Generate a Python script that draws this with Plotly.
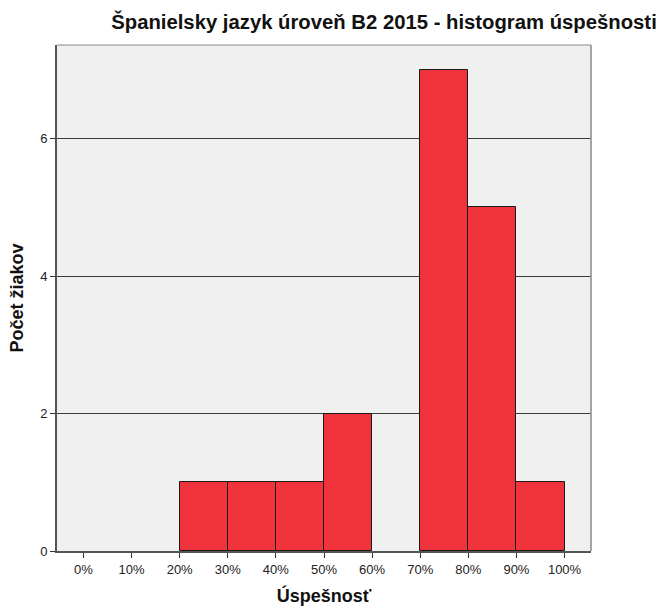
import plotly.graph_objects as go

bin_starts = [0, 10, 20, 30, 40, 50, 60, 70, 80, 90]
counts = [0, 0, 1, 1, 1, 2, 0, 7, 5, 1]
tick_vals = [0, 10, 20, 30, 40, 50, 60, 70, 80, 90, 100]
tick_text = ["0%", "10%", "20%", "30%", "40%", "50%", "60%", "70%", "80%", "90%", "100%"]
y_ticks = [0, 2, 4, 6]
bin_width = 10

xs = [s + bin_width / 2 for s, c in zip(bin_starts, counts) if c > 0]
ys = [c for c in counts if c > 0]

fig = go.Figure()
fig.add_trace(go.Bar(
    x=xs, y=ys, width=[bin_width] * len(xs),
    marker=dict(color="#F0323A", line=dict(color="#1a1a1a", width=1)),
    hoverinfo="x+y",
))

font = "Liberation Sans, Arial, sans-serif"
W, H = 661, 606
fig.update_layout(
    width=W, height=H,
    margin=dict(l=57, r=70, t=45, b=55, autoexpand=False),
    paper_bgcolor="white", plot_bgcolor="#F0F0F0",
    showlegend=False, bargap=0,
    font=dict(family=font, size=13, color="#222"),
    title=dict(text="<b>Španielsky jazyk úroveň B2 2015 - histogram úspešnosti</b>",
               x=384 / W, xanchor="center", y=1 - 22 / H, yanchor="middle",
               font=dict(family=font, size=20.3, color="#111")),
)
fig.update_xaxes(
    range=[-5.5, 105.5], tickvals=tick_vals, ticktext=tick_text,
    ticks="outside", ticklen=5, tickcolor="#333", tickwidth=1,
    showgrid=False, zeroline=False, automargin=False,
    showline=True, linecolor="#555", linewidth=2, mirror=False,
    title=dict(text="<b>Úspešnosť</b>", font=dict(family=font, size=18, color="#111"), standoff=15),
    tickfont=dict(family=font, size=13, color="#222"),
)
fig.update_yaxes(
    range=[0, 7.36], tickvals=y_ticks,
    ticks="outside", ticklen=5, tickcolor="#333", tickwidth=1,
    showgrid=True, gridcolor="#3a3a3a", gridwidth=1, zeroline=False, automargin=False,
    showline=True, linecolor="#555", linewidth=2,
    title=dict(text="<b>Počet žiakov</b>", font=dict(family=font, size=18, color="#111"), standoff=12),
    tickfont=dict(family=font, size=13, color="#222"),
)
fig.add_shape(type="line", xref="paper", yref="paper", x0=0, x1=1, y0=1, y1=1,
              line=dict(color="#888", width=1))
fig.add_shape(type="line", xref="paper", yref="paper", x0=1, x1=1, y0=0, y1=1,
              line=dict(color="#888", width=1.5))

fig.write_html("out.html", config={"displayModeBar": False},
               post_script="document.body.style.margin='0';document.body.style.overflow='hidden';")
